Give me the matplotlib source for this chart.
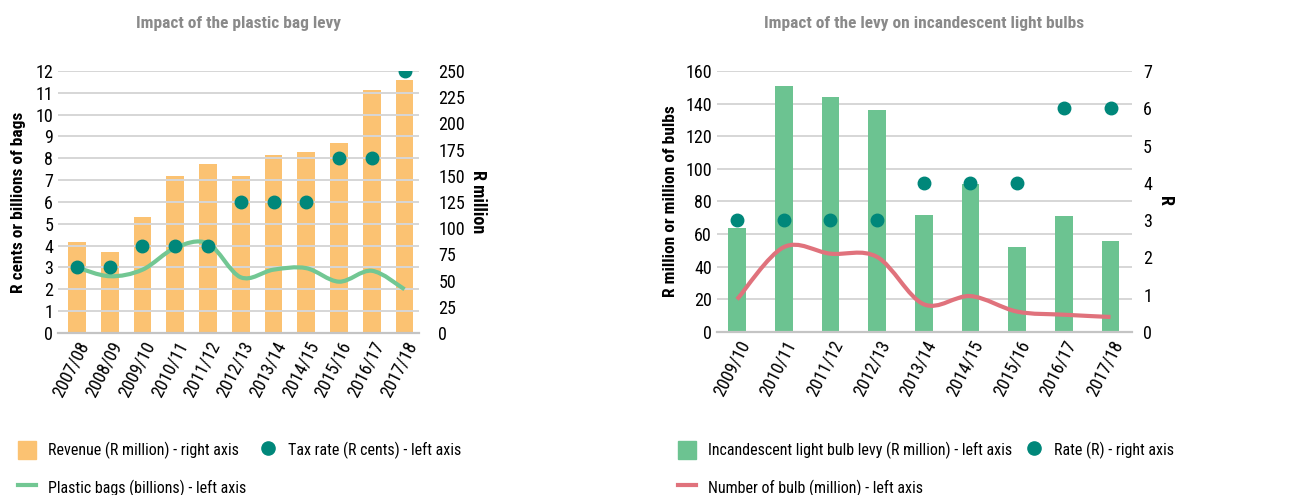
import numpy as np
import matplotlib
matplotlib.use('Agg')
import matplotlib.pyplot as plt
from matplotlib.path import Path
from matplotlib.patches import PathPatch, Patch
from matplotlib.lines import Line2D

plt.rcParams['font.family'] = ['Roboto Condensed', 'Liberation Sans Narrow', 'Roboto', 'DejaVu Sans']

# plastic bag levy
bag_years = ['2007/08', '2008/09', '2009/10', '2010/11', '2011/12', '2012/13',
             '2013/14', '2014/15', '2015/16', '2016/17', '2017/18']
bag_revenue = [87, 77, 111, 150, 161, 150, 170, 173, 181, 232, 241]
bag_tax_rate = [3, 3, 4, 4, 4, 6, 6, 6, 8, 8, 12]
bag_billions = [3.0, 2.6, 2.9, 3.9, 4.1, 2.55, 2.9, 2.97, 2.35, 2.85, 2.0]

# incandescent light bulb levy
bulb_years = ['2009/10', '2010/11', '2011/12', '2012/13', '2013/14',
              '2014/15', '2015/16', '2016/17', '2017/18']
bulb_levy = [64, 151, 144, 136, 72, 91, 52, 71, 56]
bulb_rate = [3, 3, 3, 3, 4, 4, 4, 6, 6]
bulb_number = [20, 52, 48, 46, 17, 22, 12.5, 10.6, 9.2]

ORANGE = '#fbc272'
TEAL = '#00877a'
GREEN_BAR = '#6cc391'
GREEN_LINE = '#72c793'
PINK = '#e0727c'
GRID = '#d6d6d6'
TITLE_GREY = '#8a8a8a'
FS = 13
LEG_FS = 11.5


def smooth_path(xs, ys):
    # excel-style smoothed line as cubic bezier segments
    n = len(xs)
    verts = [(xs[0], ys[0])]
    codes = [Path.MOVETO]
    for i in range(n - 1):
        a = i - 1 if i > 0 else i
        d = i + 2 if i + 2 < n else i + 1
        c1 = (xs[i] + (xs[i + 1] - xs[a]) / 6, ys[i] + (ys[i + 1] - ys[a]) / 6)
        c2 = (xs[i + 1] - (xs[d] - xs[i]) / 6, ys[i + 1] - (ys[d] - ys[i]) / 6)
        verts += [c1, c2, (xs[i + 1], ys[i + 1])]
        codes += [Path.CURVE4] * 3
    return Path(verts, codes)


def style_axes(ax):
    for s in ['top', 'left', 'right']:
        ax.spines[s].set_visible(False)
    ax.spines['bottom'].set_color('#c4c4c4')
    ax.spines['bottom'].set_linewidth(1.6)
    ax.tick_params(length=0, labelsize=FS)
    ax.grid(axis='y', color=GRID, linewidth=1.4)
    ax.set_axisbelow(True)


def add_legend(handles, labels, x):
    fig.legend(handles=handles, labels=labels, ncol=2, loc='upper left',
               bbox_to_anchor=(x, 0.11), frameon=False, fontsize=LEG_FS,
               handlelength=1.15, handleheight=1.4, handletextpad=0.7,
               columnspacing=0.8, labelspacing=1.2, borderpad=0, borderaxespad=0)


fig = plt.figure(figsize=(12.97, 4.95), dpi=100)

# ---- left chart ----
ax1 = fig.add_axes([0.0447, 0.3273, 0.2783, 0.5293])
ax1r = ax1.twinx()
x1 = np.arange(len(bag_years))

ax1r.bar(x1, bag_revenue, width=0.54, color=ORANGE, zorder=1)
ax1r.set_ylim(0, 250)
ax1r.set_yticks(np.arange(0, 251, 25))
ax1r.set_ylabel('R million', rotation=270, fontsize=FS, fontweight='bold', labelpad=16)

ax1.set_zorder(ax1r.get_zorder() + 1)
ax1.patch.set_visible(False)
style_axes(ax1)
for s in ['top', 'left', 'right', 'bottom']:
    ax1r.spines[s].set_visible(False)
ax1r.tick_params(length=0, labelsize=FS, pad=14)

ax1.add_patch(PathPatch(smooth_path(x1, bag_billions), fill=False,
                        edgecolor=GREEN_LINE, lw=3, zorder=3))
ax1.plot(x1, bag_tax_rate, 'o', color=TEAL, markersize=9, zorder=4)
ax1.set_ylim(0, 12)
ax1.set_yticks(np.arange(0, 13, 1))
ax1.set_xlim(-0.58, 10.44)
ax1.set_xticks(x1)
ax1.set_xticklabels(bag_years, rotation=63, ha='right', rotation_mode='anchor')
ax1.tick_params(axis='x', pad=4)
ax1.set_ylabel('R cents or billions of bags', fontsize=12.5, fontweight='bold', labelpad=7)
ax1.set_title('Impact of the plastic bag levy', fontsize=12.5, fontweight='bold',
              color=TITLE_GREY, pad=31)

add_legend([Patch(color=ORANGE),
            Line2D([], [], color=GREEN_LINE, lw=3),
            Line2D([], [], marker='o', ls='', color=TEAL, markersize=9.5)],
           ['Revenue (R million) - right axis',
            'Plastic bags (billions) - left axis',
            'Tax rate (R cents) - left axis'], 0.0139)

# ---- right chart ----
ax2 = fig.add_axes([0.5528, 0.3293, 0.320, 0.5273])
ax2r = ax2.twinx()
x2 = np.arange(len(bulb_years))
style_axes(ax2)
for s in ['top', 'left', 'right', 'bottom']:
    ax2r.spines[s].set_visible(False)
ax2r.tick_params(length=0, labelsize=FS, pad=8)

ax2.bar(x2, bulb_levy, width=0.38, color=GREEN_BAR, zorder=2)
ax2.add_patch(PathPatch(smooth_path(x2, bulb_number), fill=False,
                        edgecolor=PINK, lw=3, zorder=3))
ax2.set_ylim(0, 160)
ax2.set_yticks(np.arange(0, 161, 20))
ax2.set_xlim(-0.43, 8.46)
ax2.set_xticks(x2)
ax2.set_xticklabels(bulb_years, rotation=63, ha='right', rotation_mode='anchor')
ax2.tick_params(axis='x', pad=4)
ax2.set_ylabel('R million or million of bulbs', fontsize=12.5, fontweight='bold', labelpad=5)
ax2.set_title('Impact of the levy on incandescent light bulbs', fontsize=12.5,
              fontweight='bold', color=TITLE_GREY, pad=31)

ax2r.plot(x2, bulb_rate, 'o', color=TEAL, markersize=9, zorder=4)
ax2r.set_ylim(0, 7)
ax2r.set_yticks(np.arange(0, 8, 1))
ax2r.set_ylabel('R', rotation=270, fontsize=FS, fontweight='bold', labelpad=16)

add_legend([Patch(color=GREEN_BAR),
            Line2D([], [], color=PINK, lw=3),
            Line2D([], [], marker='o', ls='', color=TEAL, markersize=9.5)],
           ['Incandescent light bulb levy (R million) - left axis',
            'Number of bulb (million) - left axis',
            'Rate (R) - right axis'], 0.5228)

fig.savefig('out.png', dpi=100)
